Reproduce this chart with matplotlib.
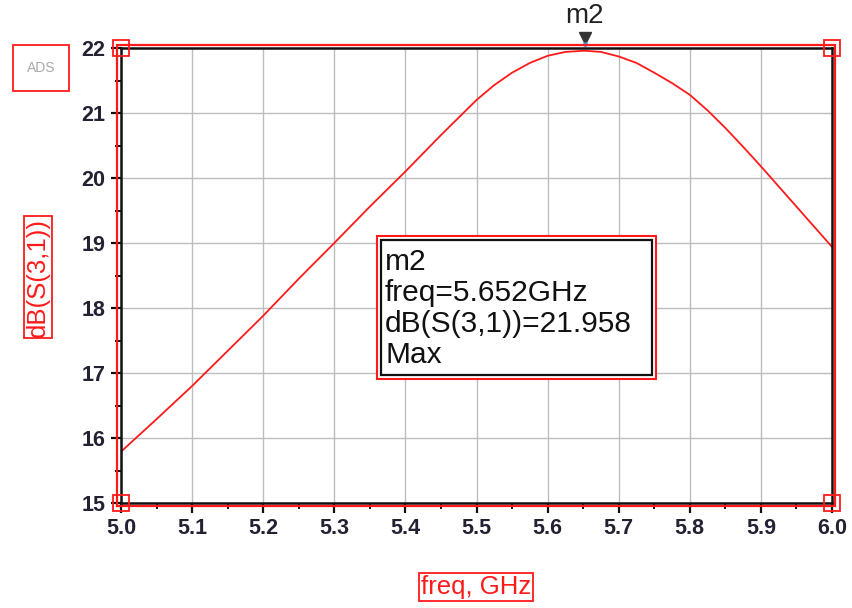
import matplotlib
matplotlib.use("Agg")
import matplotlib.pyplot as plt
from matplotlib.patches import Rectangle
from matplotlib.transforms import offset_copy

plt.rcParams['font.family'] = ['Liberation Sans', 'DejaVu Sans']

# ---- data ----
freq = [5.00, 5.05, 5.10, 5.15, 5.20, 5.25, 5.30, 5.35, 5.40, 5.45, 5.50, 5.525,
        5.55, 5.575, 5.60, 5.625, 5.652, 5.675, 5.70, 5.725, 5.75, 5.775, 5.80,
        5.825, 5.85, 5.875, 5.90, 5.95, 6.00]
s31_db = [15.79, 16.29, 16.80, 17.34, 17.88, 18.45, 19.00, 19.56, 20.10, 20.66, 21.20, 21.43,
          21.62, 21.77, 21.88, 21.94, 21.958, 21.94, 21.87, 21.77, 21.62, 21.46, 21.28,
          21.04, 20.77, 20.48, 20.18, 19.56, 18.94]
marker_name = "m2"
marker_freq = 5.652
marker_val = 21.958
xticks = [5.0, 5.1, 5.2, 5.3, 5.4, 5.5, 5.6, 5.7, 5.8, 5.9, 6.0]
yticks = [15, 16, 17, 18, 19, 20, 21, 22]
xlabel = "freq, GHz"
ylabel = "dB(S(3,1))"

W, H = 852, 608
fig = plt.figure(figsize=(W / 100, H / 100), dpi=100)
fig.patch.set_facecolor('white')

def fx(px):
    return px / W

def fy(py):
    return 1 - py / H

L, R, T, B = 121, 832, 48, 503
ax = fig.add_axes([fx(L), fy(B), fx(R - L), (B - T) / H])

RED = '#ff1a1a'
ax.plot(freq, s31_db, color=RED, lw=1.3, zorder=3)

ax.set_xlim(5.0, 6.0)
ax.set_ylim(15, 22)
ax.set_xticks(xticks)
ax.set_xticklabels([f"{v:.1f}" for v in xticks])
ax.set_yticks(yticks)
ax.set_yticklabels([str(v) for v in yticks])
ax.set_xticks([v + 0.05 for v in xticks[:-1]], minor=True)
ax.set_yticks([v + 0.5 for v in yticks[:-1]], minor=True)
ax.grid(True, which='major', color='#bdbdbd', lw=1.0)
ax.set_axisbelow(True)

ax.tick_params(which='major', direction='out', length=7, width=1.6, color='#111111',
               labelsize=15.5, labelcolor='#222233', pad=4)
ax.tick_params(which='minor', direction='out', length=4, width=1.4, color='#111111')
for lab in ax.get_xticklabels() + ax.get_yticklabels():
    lab.set_fontweight('bold')
for sp in ax.spines.values():
    sp.set_color('#111111')
    sp.set_linewidth(1.8)
    sp.set_zorder(4)

# red outer frame
fig.patches.append(Rectangle((fx(117), fy(506)), fx(835 - 117), (506 - 45) / H,
                             transform=fig.transFigure, fill=False, ec=RED, lw=1.6,
                             zorder=5))
# corner squares
for cx, cy in [(0, 0), (0, 1), (1, 0), (1, 1)]:
    ax.plot([cx], [cy], marker='s', ms=11, mfc='none', mec=RED, mew=1.3,
            transform=ax.transAxes, clip_on=False, zorder=6)

# marker at peak
tri = offset_copy(ax.transData, fig=fig, x=0, y=7, units='points')
ax.plot([marker_freq], [22], marker='v', ms=9, color='#333333', transform=tri,
        clip_on=False, zorder=7)
dot = offset_copy(ax.transData, fig=fig, x=0, y=3, units='points')
ax.plot([marker_freq], [22], marker='o', ms=3.5, color='#2a9fd8', mec='none',
        transform=dot, clip_on=False, zorder=8)
ax.annotate(marker_name, xy=(marker_freq, 22), xytext=(0, 14), textcoords='offset points',
            ha='center', va='bottom', fontsize=20, color='#222222', annotation_clip=False)

# marker readout box
fig.patches.append(Rectangle((fx(377), fy(379)), fx(656 - 377), (379 - 236) / H,
                             transform=fig.transFigure, fill=True, fc='white', ec=RED,
                             lw=1.5, zorder=9))
fig.patches.append(Rectangle((fx(381), fy(375)), fx(652 - 381), (375 - 240) / H,
                             transform=fig.transFigure, fill=False, ec='#111111',
                             lw=1.6, zorder=10))
readout = [marker_name, f"freq={marker_freq:.3f}GHz",
           f"dB(S(3,1))={marker_val:.3f}", "Max"]
for i, line in enumerate(readout):
    fig.text(fx(385), fy(262 + 31 * i), line, fontsize=21.5, color='#111111',
             ha='left', va='center', zorder=11)

# axis labels with red boxes
fig.text(fx(476), fy(587), xlabel, fontsize=18.5, color=RED, ha='center', va='center',
         bbox=dict(boxstyle='square,pad=0.06', fc='white', ec=RED, lw=1.3))
fig.text(fx(38), fy(277), ylabel, fontsize=18.5, color=RED, ha='center', va='center',
         rotation=90,
         bbox=dict(boxstyle='square,pad=0.06', fc='white', ec=RED, lw=1.3))

# ADS tag
fig.patches.append(Rectangle((fx(13), fy(91)), fx(69 - 13), (91 - 45) / H,
                             transform=fig.transFigure, fill=False, ec=RED, lw=1.3))
fig.text(fx(41), fy(68), "ADS", fontsize=10, color='#aaaaaa', ha='center', va='center')

fig.savefig("out.png", dpi=100)
